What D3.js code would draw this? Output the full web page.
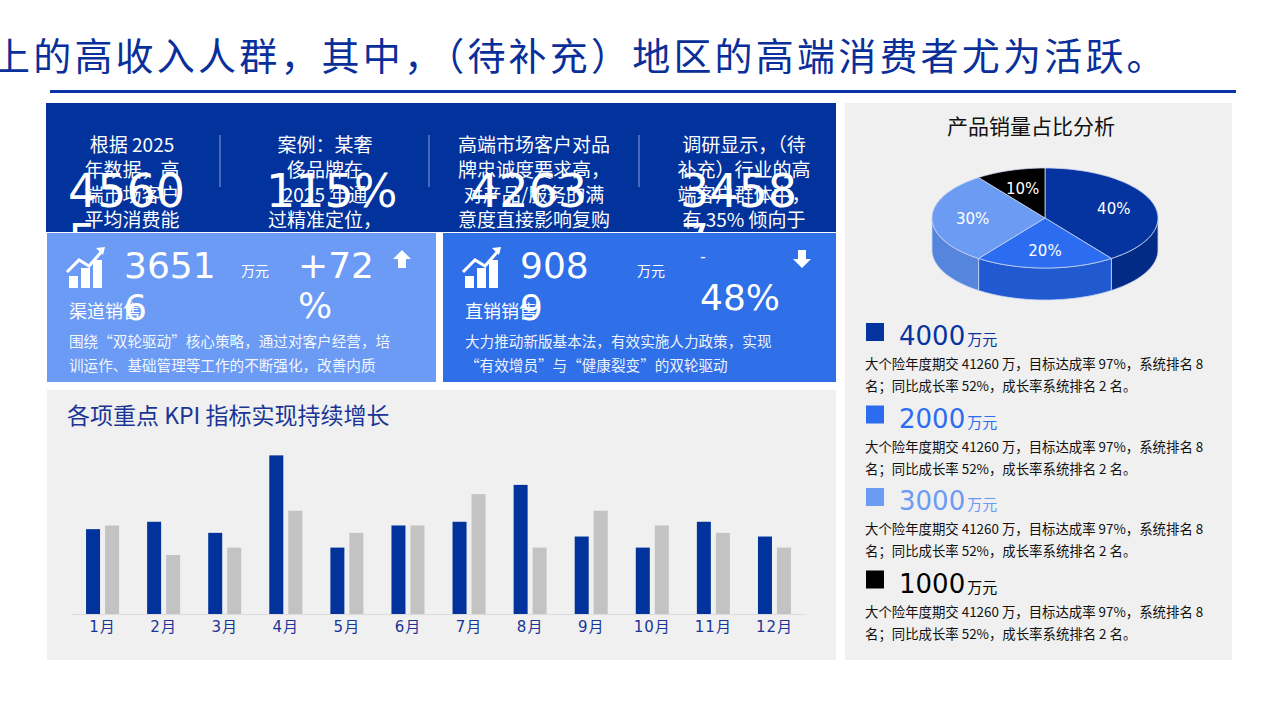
<!DOCTYPE html><html><head><meta charset="utf-8">
<script src="https://cdn.jsdelivr.net/npm/d3@7"></script>
<style>body{margin:0;background:#fff}svg{display:block;font-family:"Noto Sans CJK SC","Noto Sans",sans-serif}</style></head><body>
<svg id="c" width="1280" height="719"></svg>
<script>
const months=["1月","2月","3月","4月","5月","6月","7月","8月","9月","10月","11月","12月"];
const seriesA=[2.3,2.5,2.2,4.3,1.8,2.4,2.5,3.5,2.1,1.8,2.5,2.1];
const seriesB=[2.4,1.6,1.8,2.8,2.2,2.4,3.25,1.8,2.8,2.4,2.2,1.8];
const pieLabels=["40%","20%","30%","10%"];
const pieValues=[40,20,30,10];
const pieColors=["#0533a0","#2b6cf0","#6b9bf3","#000000"];
const pieSide=["#032a85","#215ad0","#5585dc","#000000"];
const legendValues=["4000","2000","3000","1000"];
const topCols=[
 {lines:["根据 2025","年数据，高","端市场客户","平均消费能"],big:["4560","5"]},
 {lines:["案例：某奢","侈品牌在","2025 年通","过精准定位，"],big:["115%"]},
 {lines:["高端市场客户对品","牌忠诚度要求高，","对产品/服务的满","意度直接影响复购"],big:["4263","-"]},
 {lines:["调研显示，（待","补充）行业的高","端客户群体中，","有 35% 倾向于"],big:["3458","7"]}];
const svg=d3.select("#c");
svg.append("text").attr("x",-8).attr("y",70).attr("font-size",38).attr("letter-spacing",3.2).attr("fill","#0a2f9a").text("上的高收入人群，其中，（待补充）地区的高端消费者尤为活跃。");
svg.append("rect").attr("x",50).attr("y",90).attr("width",1186).attr("height",3).attr("fill","#0a33a8");
svg.append("defs").append("clipPath").attr("id","tp").append("rect").attr("x",46).attr("y",103).attr("width",790).attr("height",129);
svg.append("rect").attr("x",46).attr("y",103).attr("width",790).attr("height",129).attr("fill","#02329c");
const tp=svg.append("g").attr("clip-path","url(#tp)");
const colC=[132,325,534,744], bigX=[68,266,470,680];
[220,429,639].forEach(x=>tp.append("line").attr("x1",x).attr("x2",x).attr("y1",135).attr("y2",187).attr("stroke","#8aa0d8").attr("stroke-width",1));
topCols.forEach((c,i)=>{
 c.lines.forEach((l,j)=>tp.append("text").attr("x",colC[i]).attr("y",152+j*25).attr("text-anchor","middle").attr("font-size",19).attr("fill","#fff").text(l));
 c.big.forEach((b,j)=>tp.append("text").attr("x",bigX[i]).attr("y",207+j*50).attr("font-size",46).attr("fill","#fff").attr("font-family","DejaVu Sans").text(b));
});
function icon(g,x,y){
 [[0,20,9,16],[12,12,9,24],[24,4,9,32]].forEach(r=>g.append("rect").attr("x",x+r[0]).attr("y",y+r[1]+4).attr("width",r[2]).attr("height",r[3]-4).attr("fill","#fff"));
 g.append("polyline").attr("points",`${x-2},${y+20} ${x+10},${y+8} ${x+20},${y+14} ${x+34},${y-2}`).attr("fill","none").attr("stroke","#fff").attr("stroke-width",3);
 g.append("path").attr("d",`M${x+36},${y-5} l-9,1 l7,7 z`).attr("fill","#fff");
}
function card(x,w,col,num,num2,pct,pct2,pctY,name,desc,up){
 const g=svg.append("g");
 g.append("rect").attr("x",x).attr("y",233).attr("width",w).attr("height",149).attr("fill",col);
 icon(g,x+22,252);
 g.append("text").attr("x",x+77).attr("y",278).attr("font-size",36).attr("fill","#fff").attr("font-family","DejaVu Sans").text(num);
 g.append("text").attr("x",x+77).attr("y",320).attr("font-size",36).attr("fill","#fff").attr("font-family","DejaVu Sans").text(num2);
 g.append("text").attr("x",x+194).attr("y",276).attr("font-size",14).attr("fill","#fff").text("万元");
 g.append("text").attr("x",x+(up?251:257)).attr("y",pctY).attr("font-size",up?36:16).attr("fill","#fff").attr("font-family","DejaVu Sans").text(pct);
 g.append("text").attr("x",x+(up?251:257)).attr("y",up?318:310).attr("font-size",36).attr("fill","#fff").attr("font-family","DejaVu Sans").text(pct2);
 const ax=x+w-34;
 g.append("path").attr("d",up?`M${ax},250 l9,9 h-5 v9 h-8 v-9 h-5 z`:`M${ax},268 l9,-9 h-5 v-9 h-8 v9 h-5 z`).attr("fill","#fff");
 g.append("text").attr("x",x+22).attr("y",318).attr("font-size",18).attr("fill","#fff").text(name);
 desc.forEach((d,j)=>g.append("text").attr("x",x+22).attr("y",347+j*24).attr("font-size",14.6).attr("fill","#fff").attr("opacity",0.92).text(d));
}
card(47,389,"#6b9bf5","3651","6","+72","%",278,"渠道销售",["围绕“双轮驱动”核心策略，通过对客户经营，培","训运作、基础管理等工作的不断强化，改善内质"],true);
card(443,393,"#2f6fe8","908","9","-","48%",262,"直销销售",["大力推动新版基本法，有效实施人力政策，实现","“有效增员”与“健康裂变”的双轮驱动"],false);
svg.append("rect").attr("x",47).attr("y",390).attr("width",789).attr("height",270).attr("fill","#f0f0f0");
svg.append("text").attr("x",67).attr("y",424).attr("font-size",23).attr("fill","#1a3596").text("各项重点 KPI 指标实现持续增长");
const x0=d3.scaleBand().domain(months).range([72,805]).paddingInner(0.2).paddingOuter(0.1);
const y=d3.scaleLinear().domain([0,4.5]).range([614,448]);
svg.append("line").attr("x1",72).attr("x2",805).attr("y1",614.5).attr("y2",614.5).attr("stroke","#dcdcdc");
const bw=14;
months.forEach((m,i)=>{
 const c=x0(m)+x0.bandwidth()/2;
 svg.append("rect").attr("x",c-bw-2.5).attr("y",y(seriesA[i])).attr("width",bw).attr("height",614-y(seriesA[i])).attr("fill","#02339c");
 svg.append("rect").attr("x",c+2.5).attr("y",y(seriesB[i])).attr("width",bw).attr("height",614-y(seriesB[i])).attr("fill","#c3c3c3");
});
svg.append("g").attr("transform","translate(0,614)").call(d3.axisBottom(x0).tickSize(0).tickPadding(7))
 .call(g=>{g.select(".domain").remove();g.selectAll("text").attr("font-size",15).attr("letter-spacing",1).attr("fill","#1a3596").attr("font-family","DejaVu Sans, Noto Sans CJK SC");});
svg.append("rect").attr("x",845).attr("y",103).attr("width",387).attr("height",557).attr("fill","#f0f0f0");
svg.append("text").attr("x",1031).attr("y",134).attr("text-anchor","middle").attr("font-size",21).attr("fill","#111").text("产品销量占比分析");
const cx=1045,cy=218,rx=113,ry=50,dep=32;
const arcs=d3.pie().sort(null).value(d=>d)(pieValues);
const P=(a,dy=0)=>[cx+rx*Math.sin(a),cy-ry*Math.cos(a)+dy];
arcs.forEach((a,i)=>{
 const s=Math.max(a.startAngle,Math.PI/2),e=Math.min(a.endAngle,3*Math.PI/2);
 if(e<=s)return;
 const n=40,top=[],bot=[];
 for(let k=0;k<=n;k++){const t=s+(e-s)*k/n;top.push(P(t));bot.push(P(t,dep));}
 const pts=top.concat(bot.reverse());
 svg.append("path").attr("d","M"+pts.map(p=>p.join(",")).join("L")+"Z").attr("fill",pieSide[i]).attr("stroke","#c8d4f0").attr("stroke-width",0.8);
});
arcs.forEach((a,i)=>{
 const n=60,pts=[[cx,cy]];
 for(let k=0;k<=n;k++)pts.push(P(a.startAngle+(a.endAngle-a.startAngle)*k/n));
 svg.append("path").attr("d","M"+pts.map(p=>p.join(",")).join("L")+"Z").attr("fill",pieColors[i]).attr("stroke","#c8d4f0").attr("stroke-width",0.8);
 const m=(a.startAngle+a.endAngle)/2;
 const lp=[cx+rx*0.64*Math.sin(m),cy-ry*0.64*Math.cos(m)];
 svg.append("text").attr("x",lp[0]).attr("y",lp[1]+6).attr("text-anchor","middle").attr("font-size",15).attr("fill","#fff").attr("font-family","DejaVu Sans").text(pieLabels[i]);
});
legendValues.forEach((v,i)=>{
 const y0=323+i*82.5;
 svg.append("rect").attr("x",866).attr("y",y0).attr("width",18).attr("height",18).attr("fill",pieColors[i]);
 const t=svg.append("text").attr("x",899).attr("y",y0+22).attr("fill",pieColors[i]);
 t.append("tspan").attr("font-size",26).attr("font-family","DejaVu Sans").text(v);
 t.append("tspan").attr("font-size",15).attr("dx",2).text("万元");
 ["大个险年度期交 41260 万，目标达成率 97%，系统排名 8","名；同比成长率 52%，成长率系统排名 2 名。"].forEach((d,j)=>
  svg.append("text").attr("x",865).attr("y",y0+46+j*22).attr("font-size",13.4).attr("fill","#111").text(d));
});
</script></body></html>
